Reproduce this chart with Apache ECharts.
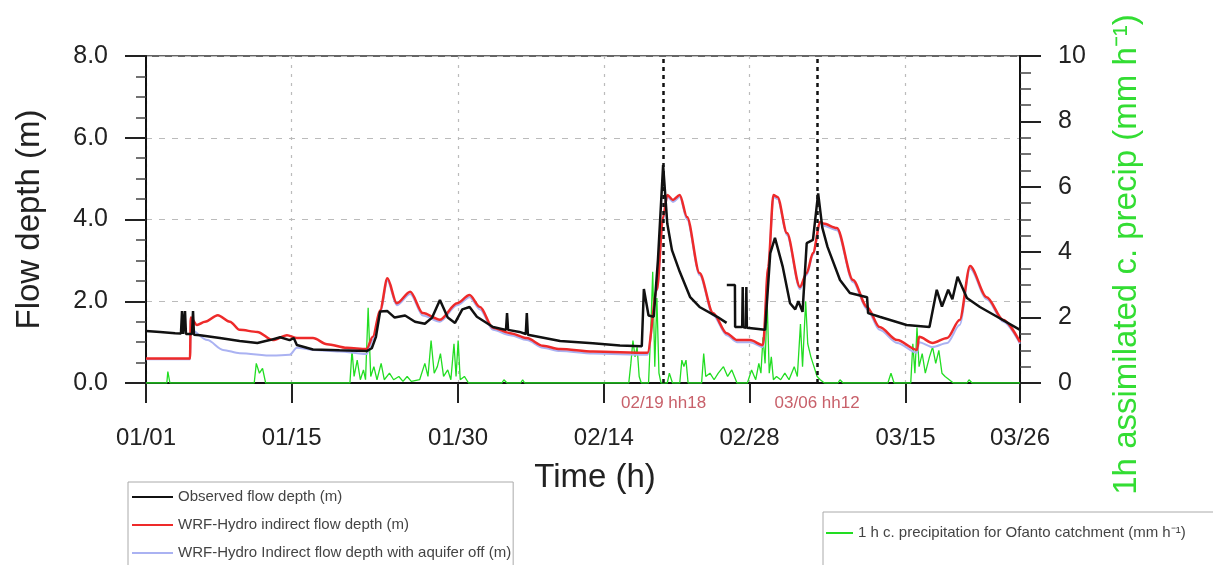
<!DOCTYPE html>
<html>
<head>
<meta charset="utf-8">
<script src="https://cdn.jsdelivr.net/npm/echarts@6/dist/echarts.min.js"></script>
<style>
  html, body { margin: 0; padding: 0; background: #fff; }
  #chart { width: 1213px; height: 565px; }
</style>
</head>
<body>
<div id="chart"></div>
<script>
  // x = days since 01/01 00h
  const xTickDays = [0, 14, 30, 44, 58, 73, 84]
  const xTickLabels = ['01/01', '01/15', '01/30', '02/14', '02/28', '03/15', '03/26']

  // observed flow depth (m), '-' marks the gap in the record
  const observed = [
    [0, 1.27], [1.35, 1.25], [2.8, 1.22], [3.36, 1.21], [3.46, 1.76], [3.56, 1.2], [3.75, 1.76], [3.84, 1.2],
    [4.42, 1.2], [4.52, 1.76], [4.61, 1.18], [5.2, 1.17], [7.1, 1.1], [9.0, 1.03], [10.7, 0.98], [11.9, 1.05],
    [12.9, 1.12], [13.8, 1.05], [14.2, 1.1], [14.5, 0.93], [16.05, 0.82], [18.6, 0.8], [21.2, 0.78], [21.7, 0.85],
    [22.1, 1.13], [22.5, 1.75], [23.2, 1.76], [23.9, 1.6], [24.9, 1.65], [25.85, 1.5], [26.8, 1.45], [27.5, 1.6],
    [28.25, 2.03], [29.0, 1.6], [29.7, 1.47], [30.4, 1.8], [31.1, 1.86], [31.8, 1.62], [33.35, 1.37], [34.6, 1.3],
    [34.7, 1.71], [34.8, 1.3], [35.9, 1.25], [36.5, 1.2], [36.6, 1.71], [36.7, 1.18], [39.8, 1.03], [42.95, 0.97],
    [45.55, 0.92], [47.65, 0.9], [47.85, 2.3], [48.3, 1.65], [48.8, 1.62], [49.2, 3.0], [49.7, 5.33], [50.1, 3.9],
    [50.55, 3.25], [51.3, 2.72], [52.3, 2.1], [53.2, 1.86], [54.9, 1.62], [55.8, 1.47], [55.81, '-'],
    [55.82, 2.4], [56.6, 2.4], [56.62, 1.37], [57.3, 1.37], [57.35, 2.35], [57.4, 1.37], [57.65, 1.35], [57.7, 2.35],
    [57.75, 1.35], [59.5, 1.3], [60.0, 3.18], [60.45, 3.55], [61.2, 2.84], [61.9, 1.95], [62.4, 1.8], [62.7, 2.0],
    [63.1, 1.74], [63.5, 3.42], [64.1, 3.5], [64.6, 4.64], [65.0, 3.8], [65.5, 3.33], [66.7, 2.52], [67.65, 2.2],
    [69.3, 2.1], [69.4, 1.71], [70.5, 1.62], [73.1, 1.42], [75.3, 1.37], [76.0, 2.28], [76.5, 1.87], [77.1, 2.28],
    [77.5, 2.05], [78.0, 2.6], [78.9, 2.08], [80.15, 1.86], [81.8, 1.62], [84, 1.3]
  ]

  // WRF-Hydro indirect flow depth (m)
  const wrfIndirect = [
    [0, 0.6], [4.23, 0.6], [4.3, 1.6], [4.9, 1.42], [5.67, 1.5], [6.9, 1.66], [8.07, 1.5], [9.0, 1.3],
    [10.7, 1.25], [12.2, 1.05], [13.55, 1.17], [14.5, 1.1], [16.05, 1.1], [17.4, 0.95], [19.3, 0.86], [21.2, 0.83],
    [21.8, 1.13], [22.5, 1.78], [23.2, 2.56], [24.1, 1.95], [25.4, 2.23], [26.6, 1.71], [28.25, 1.55], [29.9, 1.95],
    [31.1, 2.15], [32.1, 1.86], [33.35, 1.35], [35.0, 1.22], [36.6, 1.1], [38.15, 0.91], [39.8, 0.83], [42.95, 0.77],
    [48.2, 0.74], [49.1, 2.28], [49.7, 4.06], [50.1, 4.6], [50.65, 4.48], [51.3, 4.6], [52.0, 4.06], [53.2, 2.69],
    [54.5, 1.71], [55.8, 1.22], [56.8, 1.05], [58.05, 1.05], [59.3, 0.93], [59.8, 2.84], [60.3, 4.6], [60.7, 4.55],
    [61.6, 3.67], [62.85, 2.35], [63.5, 2.69], [64.1, 3.18], [64.8, 3.94], [65.1, 3.9], [66.4, 3.79], [67.95, 2.52],
    [69.3, 1.86], [70.5, 1.37], [72.2, 1.05], [74.1, 0.81], [74.3, 1.13], [75.6, 0.98], [77.0, 1.1], [78.2, 1.54],
    [79.2, 2.86], [80.8, 2.1], [82.4, 1.54], [84, 1.0]
  ]

  // WRF-Hydro indirect flow depth with aquifer off (m)
  const wrfAquiferOff = [
    [0, 0.58], [4.23, 0.58], [4.3, 1.3], [5.9, 1.05], [7.4, 0.81], [9.0, 0.73], [12.2, 0.67], [13.8, 0.69],
    [14.5, 0.86], [16.05, 0.81], [18.6, 0.77], [21.2, 0.71], [21.8, 1.05], [22.5, 1.7], [23.2, 2.5], [24.1, 1.9],
    [25.4, 2.18], [26.6, 1.65], [28.25, 1.5], [29.9, 1.9], [31.1, 2.1], [32.1, 1.8], [33.35, 1.3], [35.0, 1.17],
    [36.6, 1.05], [38.15, 0.86], [39.8, 0.78], [42.95, 0.72], [48.2, 0.69], [49.1, 2.25], [49.7, 4.0], [50.1, 4.55],
    [50.65, 4.43], [51.3, 4.55], [52.0, 4.0], [53.2, 2.64], [54.5, 1.66], [55.8, 1.17], [56.8, 1.0], [58.05, 1.0],
    [59.3, 0.88], [59.8, 2.8], [60.3, 4.55], [60.7, 4.5], [61.6, 3.62], [62.85, 2.3], [63.5, 2.64], [64.1, 3.13],
    [64.8, 3.9], [65.1, 3.85], [66.4, 3.74], [67.95, 2.47], [69.3, 1.8], [70.5, 1.3], [72.2, 0.98], [74.1, 0.74],
    [74.3, 1.0], [75.6, 0.88], [77.0, 0.98], [78.2, 1.42], [79.2, 2.8], [80.8, 2.05], [82.4, 1.5], [84, 0.96]
  ]

  // 1 h catchment precipitation (mm/h), right axis
  const precip = [
    [0, 0], [2.0, 0], [2.1, 0.35], [2.3, 0],
    [10.4, 0], [10.6, 0.6], [10.9, 0.3], [11.2, 0.45], [11.5, 0],
    [19.6, 0], [19.8, 1.0], [20.0, 0.2], [20.3, 0.7], [20.6, 0.1], [20.9, 0.4], [21.1, 0.1], [21.35, 2.3], [21.6, 0.2],
    [21.9, 0.5], [22.2, 0.1], [22.6, 0.6], [22.9, 0.1], [23.4, 0.3], [23.8, 0.1], [24.3, 0.2], [24.7, 0.05], [25.1, 0.2],
    [25.5, 0.05], [26.3, 0.1], [26.8, 0.6], [27.1, 0.2], [27.4, 1.3], [27.7, 0.3], [28.0, 0.5], [28.3, 0.9], [28.6, 0.2],
    [29.0, 0.4], [29.3, 0.1], [29.6, 1.2], [29.8, 0.2], [30.0, 1.3], [30.2, 0.1], [30.6, 0.2], [31.0, 0],
    [34.2, 0], [34.4, 0.1], [34.7, 0], [36.0, 0], [36.2, 0.1], [36.4, 0],
    [46.4, 0], [46.6, 0.6], [46.8, 1.3], [47.0, 0.8], [47.2, 1.1], [47.4, 0.2], [47.6, 0],
    [48.3, 0], [48.5, 1.5], [48.7, 3.4], [48.9, 0.5], [49.1, 2.6], [49.3, 0.3], [49.5, 0],
    [50.1, 0], [50.3, 0.3], [50.6, 0], [51.3, 0], [51.5, 0.7], [51.7, 0.5], [51.9, 0.7], [52.1, 0],
    [53.4, 0], [53.6, 0.9], [53.8, 0.2], [54.2, 0.3], [54.6, 0.1], [55.0, 0.3], [55.5, 0.5], [55.9, 0.2], [56.3, 0.4], [56.8, 0],
    [57.8, 0], [58.2, 0.4], [58.6, 0.1], [58.9, 0.6], [59.1, 0.3], [59.3, 1.4], [59.5, 0.6], [59.7, 2.5], [59.9, 0.3],
    [60.1, 0.8], [60.3, 0.1], [60.6, 0.2], [61.0, 0.1], [61.4, 0.3], [61.8, 0.1], [62.3, 0.5], [62.6, 0.2], [62.9, 1.8],
    [63.1, 0.5], [63.4, 2.5], [63.6, 1.2], [63.9, 0.8], [64.2, 0.5], [64.5, 0.2], [64.8, 0.1], [65.2, 0],
    [66.5, 0], [66.7, 0.1], [67.0, 0], [71.3, 0], [71.6, 0.3], [71.9, 0],
    [73.5, 0], [73.7, 1.2], [73.9, 0.3], [74.1, 1.7], [74.3, 0.5], [74.6, 0.9], [74.9, 0.3], [75.3, 0.8], [75.6, 1.1],
    [75.9, 0.6], [76.2, 1.0], [76.5, 0.3], [76.8, 0.2], [77.2, 0.1], [77.6, 0],
    [78.9, 0], [79.1, 0.1], [79.4, 0], [84, 0]
  ]

  // event markers
  const events = [
    { day: 49.75, label: '02/19 hh18' },
    { day: 64.5, label: '03/06 hh12' },
  ]

  const font = 'Liberation Sans, Arial, Helvetica, sans-serif'
  const names = [
    'Observed flow depth (m)',
    'WRF-Hydro indirect flow depth (m)',
    'WRF-Hydro Indirect flow depth with aquifer off (m)',
    '1 h c. precipitation for Ofanto catchment (mm h\u207B\u00B9)',
  ]

  const chart = echarts.init(document.getElementById('chart'))

  const option = {
    animation: false,
    textStyle: { fontFamily: font },
    grid: {
      left: 146, right: 193, top: 56, bottom: 182,
      show: true, borderColor: '#333', borderWidth: 1.5,
      outerBoundsMode: 'none',
    },
    legend: [
      {
        data: names.slice(0, 3),
        orient: 'vertical',
        left: 128, top: 482,
        height: 150,
        padding: [7, 2, 40, 4],
        itemGap: 12,
        icon: 'rect',
        itemWidth: 41, itemHeight: 2,
        borderColor: '#aaa', borderWidth: 1,
        textStyle: { fontSize: 15, color: '#444', fontFamily: font, lineHeight: 16 },
      },
      {
        data: [names[3]],
        orient: 'vertical',
        left: 823, top: 512,
        height: 100,
        padding: [13, 80, 40, 3],
        icon: 'rect',
        itemWidth: 27, itemHeight: 2,
        borderColor: '#aaa', borderWidth: 1,
        textStyle: { fontSize: 15, color: '#444', fontFamily: font, lineHeight: 16 },
      },
    ],
    xAxis: {
      type: 'value',
      min: 0, max: 84,
      name: 'Time (h)',
      nameLocation: 'middle',
      nameGap: 78,
      nameTextStyle: { fontSize: 33, color: '#222', padding: [0, 0, 0, 24] },
      axisLine: { lineStyle: { color: '#111', width: 2 } },
      axisTick: { customValues: xTickDays, length: 20, lineStyle: { color: '#222', width: 2 } },
      axisLabel: {
        customValues: xTickDays,
        margin: 43,
        fontSize: 24,
        color: '#222',
        showMinLabel: true, showMaxLabel: true,
        formatter: v => xTickLabels[xTickDays.indexOf(v)] || '',
      },
      splitLine: { show: true, lineStyle: { color: '#bbb', type: [3, 6], width: 1.2 } },
    },
    yAxis: [
      {
        type: 'value',
        min: 0, max: 8, interval: 2,
        name: 'Flow depth (m)',
        nameLocation: 'middle',
        nameGap: 100,
        nameTextStyle: { fontSize: 33, color: '#222' },
        axisLine: { show: true, lineStyle: { color: '#111', width: 2 } },
        axisTick: { length: 21, lineStyle: { color: '#222', width: 2 } },
        minorTick: { show: true, splitNumber: 4, length: 10, lineStyle: { color: '#444', width: 1.5 } },
        axisLabel: { margin: 38, fontSize: 25, color: '#222', formatter: v => v.toFixed(1) },
        splitLine: { show: true, lineStyle: { color: '#bbb', type: [6, 7], width: 1.2 } },
      },
      {
        type: 'value',
        position: 'right',
        min: 0, max: 10, interval: 2,
        name: '1h assimilated c. precip (mm h\u207B\u00B9)',
        nameLocation: 'middle',
        nameGap: 90,
        nameTextStyle: { fontSize: 33, color: '#33dd33', padding: [0, 70, 0, 0] },
        axisLine: { show: true, lineStyle: { color: '#111', width: 2 } },
        axisTick: { length: 21, lineStyle: { color: '#222', width: 2 } },
        minorTick: { show: true, splitNumber: 4, length: 11, lineStyle: { color: '#444', width: 1.5 } },
        axisLabel: { margin: 38, fontSize: 25, color: '#222' },
        splitLine: { show: false },
      },
    ],
    series: [
      {
        name: names[3],
        type: 'line',
        yAxisIndex: 1,
        data: precip,
        symbol: 'none',
        lineStyle: { color: '#22dd22', width: 1.3 },
        itemStyle: { color: '#22dd22' },
        z: 1,
      },
      {
        name: names[2],
        type: 'line',
        data: wrfAquiferOff,
        symbol: 'none',
        smooth: 0.3,
        smoothMonotone: 'x',
        lineStyle: { color: '#aab2f2', width: 2 },
        itemStyle: { color: '#aab2f2' },
        z: 2,
      },
      {
        name: names[1],
        type: 'line',
        data: wrfIndirect,
        symbol: 'none',
        smooth: 0.3,
        smoothMonotone: 'x',
        lineStyle: { color: '#ee2a2a', width: 2.5 },
        itemStyle: { color: '#ee2a2a' },
        z: 3,
      },
      {
        name: names[0],
        type: 'line',
        data: observed,
        symbol: 'none',
        connectNulls: false,
        lineStyle: { color: '#111', width: 2.5 },
        itemStyle: { color: '#111' },
        z: 4,
        markLine: {
          silent: true,
          symbol: 'none',
          lineStyle: { color: '#111', type: [4, 4], width: 2.5 },
          label: {
            show: true,
            position: 'start',
            distance: 12,
            formatter: '{b}',
            color: '#c8606a',
            fontSize: 17,
          },
          data: events.map(e => ({ xAxis: e.day, name: e.label })),
        },
      },
    ],
  }

  chart.setOption(option)
</script>
</body>
</html>
